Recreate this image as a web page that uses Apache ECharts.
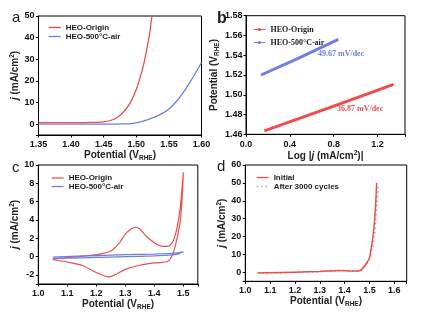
<!DOCTYPE html>
<html>
<head>
<meta charset="utf-8">
<script src="https://cdn.jsdelivr.net/npm/echarts@6/dist/echarts.min.js"></script>
<style>
  html, body { margin: 0; padding: 0; background: #fff; }
  #chart { width: 422px; height: 318px; }
</style>
</head>
<body>
<div id="chart"></div>
<script>
// (a) LSV curves
const aOriginE = [1.35, 1.38, 1.41, 1.43, 1.45, 1.46, 1.47, 1.48, 1.49, 1.50, 1.51, 1.515, 1.52, 1.524];
const aOriginJ = [0.7, 0.7, 0.7, 0.8, 1.1, 1.7, 3.0, 5.5, 9.5, 16, 26, 33, 41, 50];
const aAirE = [1.35, 1.40, 1.45, 1.48, 1.50, 1.52, 1.54, 1.55, 1.56, 1.57, 1.58, 1.59, 1.60];
const aAirJ = [0, 0, 0, 0.1, 0.6, 2.3, 5, 7, 10, 13.8, 18.3, 23.2, 28.5];

// (b) Tafel lines
const bOriginX = [0.167, 0.75, 1.346];
const bOriginY = [1.4634, 1.4864, 1.5106];
const bAirX = [0.137, 0.5, 0.842];
const bAirY = [1.520, 1.5381, 1.556];

// (c) CV loops
const cOriginE = [1.05, 1.10, 1.20, 1.25, 1.28, 1.30, 1.32, 1.335, 1.35, 1.37, 1.40, 1.43, 1.445, 1.46, 1.47, 1.48, 1.49, 1.50,
  1.497, 1.49, 1.48, 1.47, 1.46, 1.45, 1.44, 1.40, 1.35, 1.30, 1.27, 1.244, 1.20, 1.15, 1.10, 1.05];
const cOriginJ = [-0.28, -0.12, 0.2, 0.6, 1.5, 2.45, 3.0, 3.2, 3.0, 2.3, 1.5, 1.1, 1.1, 1.45, 2.1, 3.4, 5.5, 9.2,
  7.0, 4.0, 2.2, 0.9, 0.0, -0.45, -0.6, -0.7, -0.95, -1.4, -1.9, -2.23, -1.75, -0.95, -0.6, -0.35];
const cAirE = [1.05, 1.20, 1.30, 1.40, 1.45, 1.48, 1.50, 1.47, 1.40, 1.30, 1.20, 1.10, 1.05];
const cAirJ = [-0.05, 0.1, 0.2, 0.27, 0.33, 0.4, 0.5, 0.2, 0.08, -0.02, -0.1, -0.17, -0.2];

// (d) stability
const dInitE = [1.05, 1.10, 1.20, 1.30, 1.38, 1.42, 1.45, 1.46, 1.47, 1.48, 1.49, 1.50, 1.505, 1.51, 1.515, 1.52, 1.525, 1.529];
const dInitJ = [-0.3, -0.2, 0.1, 0.5, 1.0, 0.8, 0.7, 0.9, 1.8, 3.5, 5.5, 8, 12, 16, 21, 28, 38, 50];
const dAfterE = [1.05, 1.10, 1.20, 1.30, 1.38, 1.42, 1.45, 1.46, 1.47, 1.48, 1.49, 1.50, 1.51, 1.52, 1.525, 1.53, 1.535];
const dAfterJ = [-0.4, -0.3, 0.0, 0.4, 0.9, 0.8, 0.7, 0.8, 1.5, 3, 5, 7.5, 12, 20, 28, 38, 48];

const RED = '#f04c4c', BLUE = '#6c80e0', GRAY = '#a9a9a9';
const SANS = 'Liberation Sans, Arial, sans-serif';
const SERIF = 'Liberation Serif, Times New Roman, serif';

const pairs = (xs, ys) => xs.map((x, i) => [x, ys[i]]);

const RICH = {
  b: { fontFamily: SANS, fontSize: 10, fontWeight: 'bold', color: '#222', lineHeight: 13 },
  i: { fontFamily: SANS, fontSize: 10, fontWeight: 'bold', fontStyle: 'italic', color: '#222', lineHeight: 13 },
  s: { fontFamily: SANS, fontSize: 6.5, fontWeight: 'bold', color: '#222', lineHeight: 7, verticalAlign: 'bottom' },
  p: { fontFamily: SANS, fontSize: 6.5, fontWeight: 'bold', color: '#222', lineHeight: 7, verticalAlign: 'top' }
};
const POT = '{b|Potential (V}{s|RHE}{b|)}';
const JNAME = '{i|j}{b| (mA/cm}{p|2}{b|)}';
const LOGJ = '{b|Log |}{i|j}{b| (mA/cm}{p|2}{b|)|}';

function axis(grid, min, max, step, digits, name, gap, margin) {
  const a = {
    type: 'value', gridIndex: grid, min: min, max: max,
    name: name, nameLocation: 'middle', nameGap: gap,
    nameTextStyle: { rich: RICH },
    axisLine: { show: true, onZero: false, lineStyle: { color: '#000', width: 1 } },
    axisTick: { show: true, length: 2.5, lineStyle: { color: '#000', width: 1 } },
    axisLabel: {
      fontFamily: SANS, fontSize: 9, fontWeight: 'bold', color: '#111', margin: margin,
      showMinLabel: true, hideOverlap: false,
      formatter: v => Math.abs(v / step - Math.round(v / step)) < 1e-6 ? v.toFixed(digits) : ''
    },
    splitLine: { show: false }
  };
  if (Math.abs(min / step - Math.round(min / step)) < 1e-6) {
    a.interval = step;
  } else {
    a.minInterval = step; a.maxInterval = step; a.splitNumber = 6;
  }
  return a;
}

const gridBox = { show: true, borderColor: '#000', borderWidth: 1, backgroundColor: 'transparent' };

function line(name, x, y, xi, color, width, extra) {
  return Object.assign({
    name: name, type: 'line', xAxisIndex: xi, yAxisIndex: xi,
    data: pairs(x, y), symbol: 'none', smooth: 0.3, silent: true,
    lineStyle: { color: color, width: width }, itemStyle: { color: color }
  }, extra || {});
}

function legend(left, top, names, family, gap, withMarker) {
  return {
    left: left, top: top, orient: 'vertical', itemWidth: 12, itemHeight: withMarker ? 4 : 8,
    itemGap: gap, data: names, selectedMode: false,
    formatter: n => n.slice(2),
    itemStyle: withMarker ? {} : { opacity: 0 },
    lineStyle: { width: withMarker ? 1 : 1.3 },
    textStyle: { fontFamily: family, fontSize: 8, fontWeight: 'bold', color: '#222' }
  };
}

function label(text, x, y, size, color, family, weight) {
  return {
    type: 'text', left: x, top: y,
    style: { text: text, fontSize: size, fill: color, fontFamily: family, fontWeight: weight || 'normal' }
  };
}

const chart = echarts.init(document.getElementById('chart'));
chart.setOption({
  animation: false,
  grid: [
    Object.assign({ left: 38.5, top: 16, width: 163, height: 119 }, gridBox),
    Object.assign({ left: 246, top: 15.7, width: 159, height: 118.6 }, gridBox),
    Object.assign({ left: 38.3, top: 165, width: 159.5, height: 119 }, gridBox),
    Object.assign({ left: 245.3, top: 165, width: 161.4, height: 116.3 }, gridBox)
  ],
  xAxis: [
    axis(0, 1.35, 1.60, 0.05, 2, POT, 12, 5),
    axis(1, 0, 1.45, 0.4, 1, LOGJ, 12, 5.5),
    axis(2, 1.0, 1.55, 0.1, 1, POT, 13, 5),
    axis(3, 1.0, 1.65, 0.1, 1, POT, 13, 5)
  ],
  yAxis: [
    axis(0, -5, 50, 10, 0, JNAME, 17, 4),
    axis(1, 1.46, 1.58, 0.02, 2, POT, 25, 3.5),
    axis(2, -3, 10, 2, 0, JNAME, 17, 4),
    axis(3, -5, 60, 10, 0, JNAME, 17, 4)
  ],
  legend: [
    legend(43, 18.5, ['a:HEO-Origin', 'a:HEO-500°C-air'], SANS, 1, false),
    legend(248, 20.5, ['b:HEO-Origin', 'b:HEO-500°C-air'], SERIF, 5, true),
    legend(46, 169, ['c:HEO-Origin', 'c:HEO-500°C-air'], SANS, 0.5, false),
    legend(251, 168.5, ['d:Initial', 'd:After 3000 cycles'], SANS, 1, false)
  ],
  graphic: [
    label('a', 12, 10, 15, '#222', SANS),
    label('b', 217, 11, 16, '#222', SANS, 'bold'),
    label('c', 12, 160, 15, '#222', SANS),
    label('d', 217, 159, 15, '#222', SANS),
    label('49.67 mV/dec', 318, 50, 8, BLUE, SERIF, 'bold'),
    label('36.87 mV/dec', 337, 105, 8, RED, SERIF, 'bold')
  ],
  series: [
    line('a:HEO-Origin', aOriginE, aOriginJ, 0, RED, 1.3),
    line('a:HEO-500°C-air', aAirE, aAirJ, 0, BLUE, 1.3),
    line('b:HEO-Origin', bOriginX, bOriginY, 1, RED, 3, { symbol: 'circle', symbolSize: 3, showSymbol: false, smooth: false }),
    line('b:HEO-500°C-air', bAirX, bAirY, 1, BLUE, 3, { symbol: 'circle', symbolSize: 3, showSymbol: false, smooth: false }),
    line('c:HEO-Origin', cOriginE, cOriginJ, 2, RED, 1.2),
    line('c:HEO-500°C-air', cAirE, cAirJ, 2, BLUE, 1.2),
    line('d:After 3000 cycles', dAfterE, dAfterJ, 3, GRAY, 1.5, { lineStyle: { color: GRAY, width: 1.5, type: [1.5, 3] } }),
    line('d:Initial', dInitE, dInitJ, 3, RED, 1.5)
  ]
});
</script>
</body>
</html>
